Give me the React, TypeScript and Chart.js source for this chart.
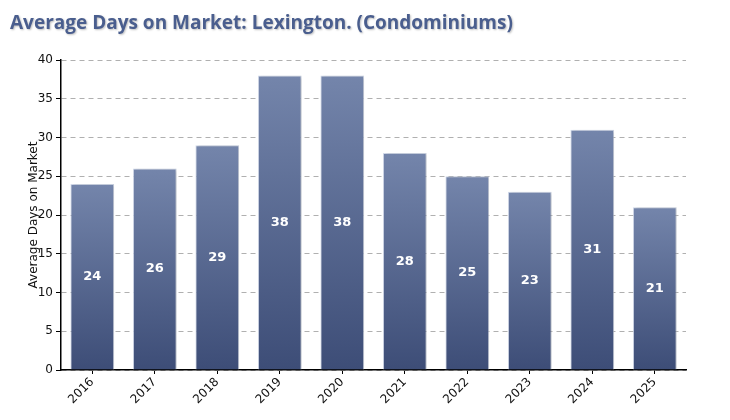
import React, { useEffect, useRef } from "react";
import { Chart, registerables } from "chart.js";

Chart.register(...registerables);

const years = ["2016", "2017", "2018", "2019", "2020", "2021", "2022", "2023", "2024", "2025"];
const avgDays = [24, 26, 29, 38, 38, 28, 25, 23, 31, 21];
const yTicks = [0, 5, 10, 15, 20, 25, 30, 35, 40];
const titleText = "Average Days on Market: Lexington. (Condominiums)";
const yTitle = "Average Days on Market";

const shadowPlugin = {
  id: "barShadow",
  beforeDatasetDraw(chart: any) {
    const ctx = chart.ctx;
    ctx.save();
    ctx.shadowColor = "rgba(0,0,0,0.18)";
    ctx.shadowBlur = 3;
    ctx.shadowOffsetX = 2;
    ctx.shadowOffsetY = 0;
  },
  afterDatasetDraw(chart: any) {
    chart.ctx.restore();
  },
};

const labelPlugin = {
  id: "barLabels",
  afterDatasetsDraw(chart: any) {
    const ctx = chart.ctx;
    const meta = chart.getDatasetMeta(0);
    ctx.save();
    ctx.fillStyle = "#ffffff";
    ctx.font = "bold 13px 'DejaVu Sans'";
    ctx.textAlign = "center";
    ctx.textBaseline = "middle";
    meta.data.forEach((bar: any, i: number) => {
      const { x, y, base } = bar.getProps(["x", "y", "base"], true);
      ctx.fillText(String(chart.data.datasets[0].data[i]), x, (y + base) / 2);
    });
    ctx.restore();
  },
};

export default function App() {
  const ref = useRef<HTMLCanvasElement | null>(null);
  useEffect(() => {
    document.body.style.margin = "0";
    const canvas = ref.current!;
    const chart = new Chart(canvas, {
      type: "bar",
      data: {
        labels: years,
        datasets: [
          {
            data: avgDays,
            backgroundColor: (c: any) => {
              const ch = c.chart;
              const ys = ch.scales?.y;
              if (!ys || c.raw === undefined) return "#5a6b94";
              const top = ys.getPixelForValue(c.raw);
              const bottom = ys.getPixelForValue(0);
              if (!isFinite(top) || !isFinite(bottom) || top === bottom) return "#5a6b94";
              const g = ch.ctx.createLinearGradient(0, top, 0, bottom);
              g.addColorStop(0, "#7485ab");
              g.addColorStop(1, "#3d4d77");
              return g;
            },
            borderColor: "rgba(200,210,230,0.8)",
            borderWidth: 1,
            categoryPercentage: 0.7,
            barPercentage: 1,
          },
        ],
      },
      options: {
        animation: false,
        responsive: false,
        maintainAspectRatio: false,
        layout: { padding: { top: 60, right: 44, left: 0, bottom: 0 } },
        plugins: {
          legend: { display: false },
          tooltip: { enabled: false },
          title: { display: false },
        },
        scales: {
          x: {
            afterFit: (s: any) => {
              s.height = 50;
            },
            grid: {
              display: true,
              drawOnChartArea: false,
              drawTicks: true,
              offset: false,
              tickColor: "#000",
              tickLength: 4,
            },
            border: { display: true, color: "#000", width: 1.5 },
            ticks: {
              color: "#111",
              font: { family: "'DejaVu Sans'", size: 12 },
              maxRotation: 45,
              minRotation: 45,
              padding: 1,
            },
          },
          y: {
            min: 0,
            max: 40,
            afterFit: (s: any) => {
              s.width = 61;
            },
            afterBuildTicks: (s: any) => {
              s.ticks = yTicks.map((v) => ({ value: v }));
            },
            grid: {
              color: "#b0b0b0",
              lineWidth: 1,
              drawTicks: true,
              tickColor: "#000",
              tickLength: 5,
              tickBorderDash: [],
            },
            border: { display: true, color: "#000", width: 1.5, dash: [5, 4] },
            ticks: {
              color: "#111",
              font: { family: "'DejaVu Sans'", size: 12 },
              padding: 3,
            },
            title: {
              display: true,
              text: yTitle,
              color: "#111",
              font: { family: "'DejaVu Sans'", size: 12 },
              padding: { top: 27, bottom: 0 },
            },
          },
        },
      },
      plugins: [shadowPlugin, labelPlugin],
    });
    return () => chart.destroy();
  }, []);

  return (
    <div style={{ position: "relative", width: 730, height: 420, background: "#fff" }}>
      <div
        style={{
          position: "absolute",
          left: 10,
          top: 9,
          fontFamily: "'Open Sans', sans-serif",
          fontWeight: 700,
          fontSize: 19,
          color: "#4a5e8e",
          textShadow: "1px 1px 2px rgba(0,0,0,0.25)",
          whiteSpace: "nowrap",
          letterSpacing: 0,
        }}
      >
        {titleText}
      </div>
      <canvas ref={ref} width={730} height={420} style={{ display: "block" }} />
    </div>
  );
}
